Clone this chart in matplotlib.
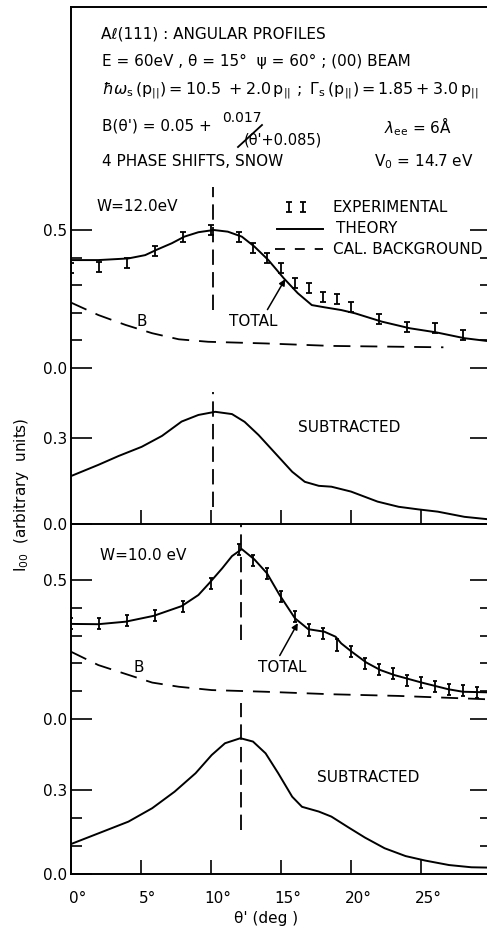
import numpy as np
import matplotlib.pyplot as plt
from matplotlib.lines import Line2D
from matplotlib.transforms import ScaledTranslation

plt.rcParams['font.family'] = ['DejaVu Sans']
plt.rcParams['mathtext.fontset'] = 'dejavusans'

# ---- W = 12.0 eV ----
theta_t12 = [0, 1.95, 4.1, 5.3, 6.1, 7.2, 8.1, 9.1, 10.2, 11.2, 12.2, 13.1, 14.1, 15.2, 16.2,
             17.2, 18.1, 19.3, 20.3, 22.2, 24.2, 26.1, 28.1, 29.7]
total_t12 = [0.391, 0.391, 0.397, 0.409, 0.428, 0.452, 0.476, 0.492, 0.500, 0.494, 0.476, 0.440,
             0.391, 0.325, 0.271, 0.228, 0.220, 0.210, 0.198, 0.168, 0.144, 0.129, 0.108, 0.098]
theta_e12 = [0, 2, 4, 6, 8, 10, 12, 13, 14, 15, 16, 17, 18, 19, 20, 22, 24, 26, 28]
exp_12 = [0.361, 0.367, 0.379, 0.424, 0.476, 0.500, 0.476, 0.434, 0.397, 0.361, 0.309, 0.291,
          0.258, 0.250, 0.220, 0.176, 0.150, 0.144, 0.120]
theta_b12 = [0, 1.95, 3.9, 5.8, 7.7, 9.8, 13.9, 18.6, 23.4, 26.6]
bg_12 = [0.237, 0.192, 0.156, 0.126, 0.104, 0.095, 0.089, 0.080, 0.077, 0.075]
theta_s12 = [0, 1.95, 3.4, 5.05, 6.5, 7.9, 9.1, 10.3, 11.5, 12.4, 13.4, 14.6, 15.8, 16.7, 17.7,
             18.6, 20.0, 21.9, 23.4, 24.8, 26.2, 28.1, 29.7]
sub_12 = [0.167, 0.206, 0.237, 0.269, 0.307, 0.357, 0.380, 0.391, 0.383, 0.356, 0.310, 0.246,
          0.182, 0.147, 0.133, 0.130, 0.113, 0.078, 0.060, 0.051, 0.043, 0.025, 0.017]
peak_12 = 10.17

# ---- W = 10.0 eV ----
theta_t10 = [0, 1.95, 3.9, 5.9, 7.9, 9.1, 9.9, 10.8, 11.5, 12.2, 13.1, 14.0, 14.9, 16.0, 16.95,
             18.1, 18.9, 19.3, 20.05, 21.1, 22.1, 23.1, 25.05, 26.95, 28.0, 29.7]
total_t10 = [0.342, 0.341, 0.350, 0.371, 0.406, 0.446, 0.490, 0.542, 0.586, 0.611, 0.574, 0.524,
             0.446, 0.362, 0.323, 0.314, 0.296, 0.272, 0.242, 0.203, 0.176, 0.158, 0.131, 0.107,
             0.098, 0.096]
theta_e10 = [0, 2, 4, 6, 8, 10, 12, 13, 14, 15, 16, 17, 18, 19, 20, 21, 22, 23, 24, 25, 26, 27,
             28, 29]
exp_10 = [0.342, 0.342, 0.353, 0.371, 0.406, 0.488, 0.611, 0.570, 0.524, 0.442, 0.368, 0.320,
          0.308, 0.266, 0.242, 0.200, 0.179, 0.164, 0.140, 0.131, 0.116, 0.107, 0.102, 0.096]
theta_b10 = [0, 1.95, 3.9, 5.8, 7.7, 10.05, 13.9, 18.6, 23.4, 29.7]
bg_10 = [0.242, 0.194, 0.162, 0.131, 0.116, 0.104, 0.098, 0.089, 0.083, 0.071]
theta_s10 = [0, 1.95, 4.1, 5.8, 7.4, 8.9, 10.05, 11.0, 12.1, 13.0, 13.9, 14.8, 15.8, 16.5, 17.7,
             18.6, 19.8, 21.0, 22.4, 23.9, 25.3, 27.0, 28.6, 29.7]
sub_10 = [0.107, 0.145, 0.187, 0.235, 0.294, 0.360, 0.425, 0.467, 0.485, 0.473, 0.431, 0.360,
          0.276, 0.240, 0.223, 0.205, 0.167, 0.130, 0.092, 0.064, 0.048, 0.032, 0.024, 0.023]
peak_10 = 12.14

xtick_vals = [0, 5, 10, 15, 20, 25]
xtick_text = ['0°', '5°', '10°', '15°', '20°', '25°']

W, H = 487, 932
fig = plt.figure(figsize=(W / 100, H / 100), dpi=100)


def box(top, bottom, left=71, right=491):
    return [left / W, 1 - bottom / H, (right - left) / W, (bottom - top) / H]


def px(x, y):
    return x / W, 1 - y / H


axA = fig.add_axes(box(7, 368))
axB = fig.add_axes(box(368, 524))
axC = fig.add_axes(box(524, 719))
axD = fig.add_axes(box(719, 874))

lw = 1.4
for ax, top, major, minor in [(axA, 1.308, [0, 0.5], [0.1, 0.2, 0.3, 0.4]),
                              (axB, 0.5436, [0, 0.3], []),
                              (axC, 0.7014, [0, 0.5], [0.1, 0.2, 0.3, 0.4]),
                              (axD, 0.5536, [0, 0.3], [0.1, 0.2])]:
    ax.set_xlim(0, 30)
    ax.set_ylim(0, top)
    ax.patch.set_alpha(0)
    for s in ax.spines.values():
        s.set_linewidth(lw)
    ax.spines['right'].set_visible(False)
    ax.spines['top'].set_visible(ax is axA)
    ax.spines['bottom'].set_visible(ax in (axB, axD))
    ax.set_yticks(major)
    ax.set_yticks(minor, minor=True)
    ax.yaxis.set_major_formatter('{x:.1f}')
    ax.tick_params(axis='y', which='major', direction='in', length=15, width=1.2,
                   left=True, right=True, labelsize=11, pad=3)
    ax.tick_params(axis='y', which='minor', direction='in', length=8, width=1.2,
                   left=True, right=True)
    if ax in (axB, axD):
        ax.set_xticks(xtick_vals)
        ax.tick_params(axis='x', direction='in', length=10, width=1.2, top=False)
    else:
        ax.tick_params(axis='x', bottom=False, labelbottom=False)

axB.tick_params(axis='x', labelbottom=False)
axD.set_xticklabels(xtick_text, fontsize=11)
axD.tick_params(axis='x', pad=12)
# keep the number (not the degree sign) centred on its tick
shift = ScaledTranslation(0.07, 0, fig.dpi_scale_trans)
for lab in axD.get_xticklabels():
    lab.set_transform(lab.get_transform() + shift)
axD.set_xlabel("θ' (deg )", fontsize=11)
axD.xaxis.set_label_coords(0.465, -0.24)

dash = (0, (9.4, 5.5))
vdash = (0, (8.5, 4))

# W = 12 eV total, background, experiment
axA.plot(theta_t12, total_t12, color='k', lw=lw)
axA.plot(theta_b12, bg_12, color='k', lw=1.3, ls=dash)
axA.errorbar(theta_e12, exp_12, yerr=0.018, fmt='none', ecolor='k', elinewidth=1.3,
             capsize=2.2, capthick=1.3)
axA.plot([peak_12, peak_12], [0.21, 0.656], color='k', lw=1.3, ls=vdash)
axB.plot(theta_s12, sub_12, color='k', lw=lw)
axB.plot([peak_12, peak_12], [0.06, 0.46], color='k', lw=1.3, ls=vdash)

# W = 10 eV total, background, experiment
axC.plot(theta_t10, total_t10, color='k', lw=lw)
axC.plot(theta_b10, bg_10, color='k', lw=1.3, ls=dash)
axC.errorbar(theta_e10, exp_10, yerr=0.02, fmt='none', ecolor='k', elinewidth=1.3,
             capsize=1.5, capthick=1.3)
axC.plot([peak_10, peak_10], [0.284, 0.70], color='k', lw=1.3, ls=vdash)
axD.plot(theta_s10, sub_10, color='k', lw=lw)
axD.plot([peak_10, peak_10], [0.157, 0.61], color='k', lw=1.3, ls=vdash, clip_on=False)

# in-panel labels
fs = 11
axA.text(1.85, 0.585, 'W=12.0eV', fontsize=fs, va='center')
axC.text(2.05, 0.587, 'W=10.0 eV', fontsize=fs, va='center')
axA.text(5.07, 0.167, 'B', fontsize=fs, ha='center', va='center')
axC.text(4.86, 0.187, 'B', fontsize=fs, ha='center', va='center')
axB.text(19.9, 0.338, 'SUBTRACTED', fontsize=fs, ha='center', va='center')
axD.text(21.2, 0.346, 'SUBTRACTED', fontsize=fs, ha='center', va='center')
arrow = dict(arrowstyle='-|>', color='k', lw=1.1, mutation_scale=9, shrinkA=1, shrinkB=0)
axA.annotate('TOTAL', xy=(15.3, 0.322), xytext=(13.0, 0.170), fontsize=fs, ha='center',
             va='center', arrowprops=dict(arrow, relpos=(0.75, 1.0)))
axC.annotate('TOTAL', xy=(16.2, 0.345), xytext=(15.1, 0.187), fontsize=fs, ha='center',
             va='center', arrowprops=dict(arrow, relpos=(0.4, 1.0)))

# key
axA.errorbar([15.57, 16.57], [0.583, 0.583], yerr=0.018, fmt='none', ecolor='k',
             elinewidth=1.3, capsize=2.2, capthick=1.3)
axA.plot([14.7, 18.0], [0.504, 0.504], color='k', lw=lw)
axA.plot([14.6, 18.0], [0.431, 0.431], color='k', lw=1.3, ls=(0, (5.5, 5.5)))
axA.text(18.7, 0.583, 'EXPERIMENTAL', fontsize=fs, va='center')
axA.text(18.95, 0.504, 'THEORY', fontsize=fs, va='center')
axA.text(18.7, 0.428, 'CAL. BACKGROUND', fontsize=fs, va='center')

# header block
fig.text(*px(101, 34), 'A\u2113(111) : ANGULAR PROFILES', fontsize=fs, va='center')
fig.text(*px(102, 61), 'E = 60eV , θ = 15°  ψ = 60° ; (00) BEAM', fontsize=fs, va='center')
fig.text(*px(102, 91),
         r'$\hbar\omega_{\rm s}\,({\rm p}_{||}) = 10.5\ + 2.0\,{\rm p}_{||}\ ;\ '
         r'\Gamma_{\rm s}\,({\rm p}_{||}) = 1.85 + 3.0\,{\rm p}_{||}$',
         fontsize=11.4, va='center')
fig.text(*px(102, 126), "B(θ') = 0.05 +", fontsize=fs, va='center')
fig.text(*px(222, 118), '0.017', fontsize=10, va='center')
fig.add_artist(Line2D([238 / W, 262 / W], [1 - 147 / H, 1 - 125 / H], color='k', lw=1.3,
                      transform=fig.transFigure))
fig.text(*px(244, 140), "(θ'+0.085)", fontsize=10.5, va='center')
fig.text(*px(384, 127), r'$\lambda_{\rm ee}$ = 6Å', fontsize=fs, va='center')
fig.text(*px(102, 162), '4 PHASE SHIFTS, SNOW', fontsize=fs, va='center')
fig.text(*px(374, 162), r'V$_{\rm 0}$ = 14.7 eV', fontsize=fs, va='center')

fig.text(*px(22, 495), r'I$_{\rm 00}$  (arbitrary  units)', fontsize=fs, rotation=90,
         ha='center', va='center')

fig.savefig('out.png', dpi=100)
